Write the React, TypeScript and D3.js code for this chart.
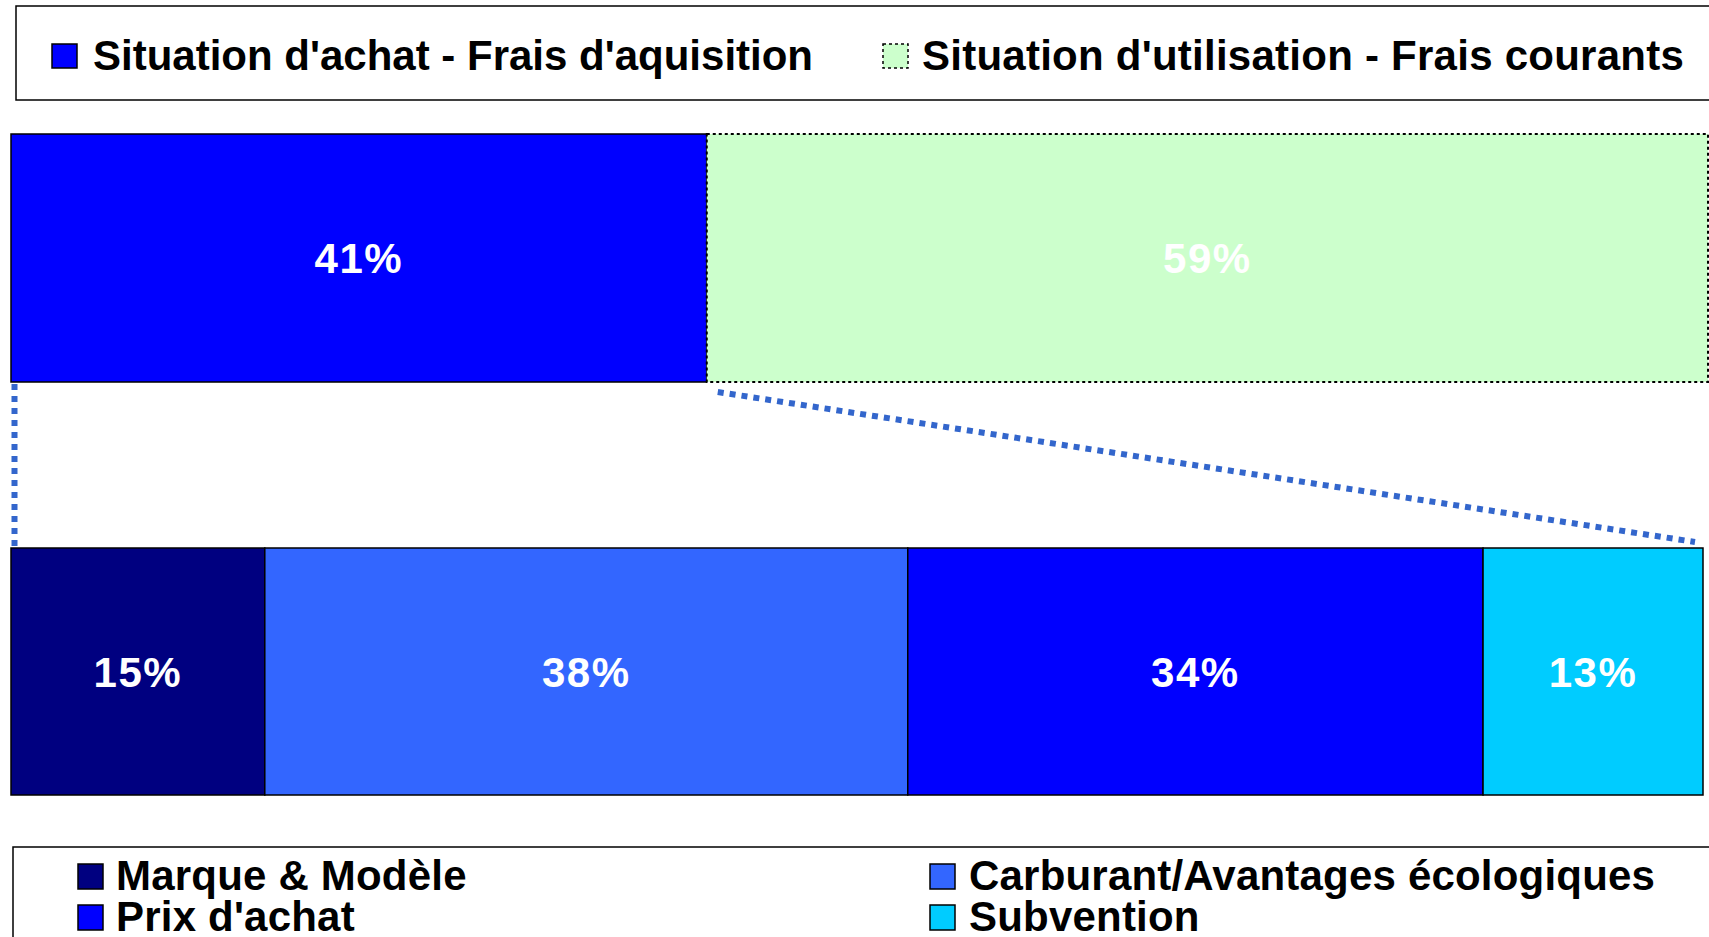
import React from "react";
import * as d3 from "d3";

// top bar: acquisition vs running costs
const topCategories = ["Situation d'achat - Frais d'aquisition", "Situation d'utilisation - Frais courants"];
const topValues = [41, 59];
const topColors = ["#0000FF", "#CCFFCC"];

// bottom bar: breakdown
const bottomCategories = ["Marque & Modèle", "Carburant/Avantages écologiques", "Prix d'achat", "Subvention"];
const bottomValues = [15, 38, 34, 13];
const bottomColors = ["#000080", "#3366FF", "#0000FF", "#00CCFF"];

const W = 1709;
const H = 937;
const FONT = "'Liberation Sans', Arial, sans-serif";

function cumulate(values: number[]) {
  let acc = 0;
  return values.map((v) => {
    const s = acc;
    acc += v;
    return [s, acc];
  });
}

export default function App() {
  const xTop = d3.scaleLinear().domain([0, d3.sum(topValues)]).range([11, 1708]);
  const xBot = d3.scaleLinear().domain([0, d3.sum(bottomValues)]).range([11, 1703]);
  const topY = 134, topH = 248;
  const botY = 548, botH = 247;

  const topSpans = cumulate(topValues);
  const botSpans = cumulate(bottomValues);
  const split = xTop(topValues[0]);

  const legendTop = [
    { sx: 52, tx: 93, ls: 0 },
    { sx: 883, tx: 922, ls: 0.25 },
  ];
  const legendBot = [
    { sx: 78, tx: 116, row: 0 },
    { sx: 930, tx: 969, row: 0 },
    { sx: 78, tx: 116, row: 1 },
    { sx: 930, tx: 969, row: 1 },
  ];
  // legend order is row-major: Marque, Carburant, Prix, Subvention
  const botOrder = [0, 1, 2, 3];

  return (
    <svg width={W} height={H} style={{ position: "absolute", left: 0, top: 0, background: "#fff" }} fontFamily={FONT}>
      {/* top legend */}
      <rect x={16} y={6} width={1720} height={94} fill="#fff" stroke="#000" strokeWidth={1.5} />
      {topCategories.map((c, i) => (
        <g key={c}>
          <rect
            x={legendTop[i].sx}
            y={44}
            width={25}
            height={24}
            fill={topColors[i]}
            stroke="#000"
            strokeWidth={1.5}
            strokeDasharray={i === 1 ? "3 3" : undefined}
          />
          <text x={legendTop[i].tx} y={70} fontSize={42} fontWeight="bold" fill="#000" letterSpacing={legendTop[i].ls}>
            {c}
          </text>
        </g>
      ))}

      {/* connector lines */}
      <line x1={14.5} y1={384} x2={14.5} y2={546} stroke="#3366CC" strokeWidth={6} strokeDasharray="6 6" />
      <line x1={split + 11} y1={392} x2={xBot(d3.sum(bottomValues)) - 8} y2={542} stroke="#3366CC" strokeWidth={6} strokeDasharray="6 6" />

      {/* top bar */}
      {topSpans.map(([a, b], i) => (
        <g key={i}>
          <rect
            x={xTop(a)}
            y={topY}
            width={xTop(b) - xTop(a)}
            height={topH}
            fill={topColors[i]}
            stroke="#000"
            strokeWidth={i === 1 ? 2 : 1.5}
            strokeDasharray={i === 1 ? "3 3" : undefined}
          />
          <text
            x={(xTop(a) + xTop(b)) / 2}
            y={topY + topH / 2}
            dy="0.36em"
            textAnchor="middle"
            fontSize={42}
            fontWeight="bold"
            letterSpacing={1.5}
            fill="#fff"
          >
            {topValues[i]}%
          </text>
        </g>
      ))}

      {/* bottom bar */}
      {botSpans.map(([a, b], i) => (
        <g key={i}>
          <rect x={xBot(a)} y={botY} width={xBot(b) - xBot(a)} height={botH} fill={bottomColors[i]} stroke="#000" strokeWidth={1.5} />
          <text
            x={(xBot(a) + xBot(b)) / 2}
            y={botY + botH / 2}
            dy="0.36em"
            textAnchor="middle"
            fontSize={42}
            fontWeight="bold"
            letterSpacing={1.5}
            fill="#fff"
          >
            {bottomValues[i]}%
          </text>
        </g>
      ))}

      {/* bottom legend */}
      <rect x={13} y={847} width={1720} height={120} fill="#fff" stroke="#000" strokeWidth={1.5} />
      {botOrder.map((ci, k) => {
        const p = legendBot[k];
        const yb = p.row === 0 ? 890 : 931;
        return (
          <g key={ci}>
            <rect x={p.sx} y={yb - 26} width={25} height={25} fill={bottomColors[ci]} stroke="#000" strokeWidth={1.5} />
            <text x={p.tx} y={yb} fontSize={42} fontWeight="bold" fill="#000" letterSpacing={0.2}>
              {bottomCategories[ci]}
            </text>
          </g>
        );
      })}
    </svg>
  );
}
